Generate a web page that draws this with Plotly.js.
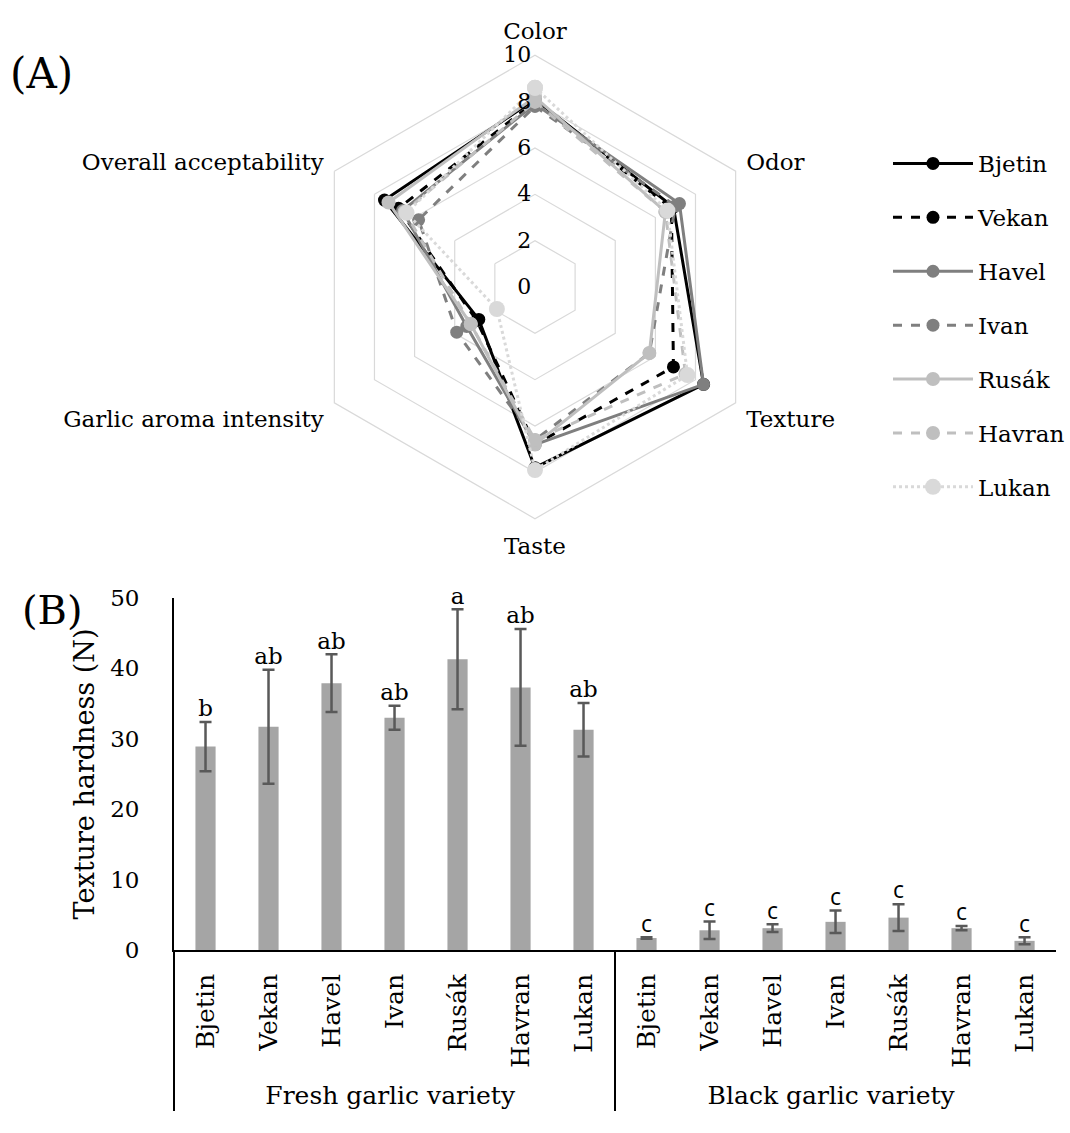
<!DOCTYPE html>
<html><head><meta charset="utf-8">
<script src="https://cdn.plot.ly/plotly-3.0.1.min.js"></script>
<style>html,body{margin:0;padding:0;background:#fff}#chart{width:1070px;height:1133px}</style>
</head><body><div id="chart"></div>
<script>
// ---- Radar (A) data ----
const attributes = ['Color', 'Odor', 'Texture', 'Taste', 'Garlic aroma intensity', 'Overall acceptability'];
const bjetin = [8.1, 6.9, 8.4, 7.8, 2.8, 7.5];
const vekan  = [8.0, 6.8, 6.9, 6.8, 2.9, 6.8];
const havel  = [7.9, 7.2, 8.4, 6.8, 3.4, 6.6];
const ivan   = [7.8, 7.0, 5.7, 6.6, 3.9, 5.8];
const rusak  = [8.2, 6.5, 5.7, 6.8, 3.2, 7.3];
const havran = [8.0, 6.5, 7.5, 6.6, 3.2, 6.5];
const lukan  = [8.6, 6.6, 7.6, 7.9, 1.9, 6.4];
const seriesNames = ['Bjetin', 'Vekan', 'Havel', 'Ivan', 'Rusák', 'Havran', 'Lukan'];

// ---- Bar (B) data ----
const varieties = ['Bjetin', 'Vekan', 'Havel', 'Ivan', 'Rusák', 'Havran', 'Lukan'];
const groupFresh = 'Fresh garlic variety';
const groupBlack = 'Black garlic variety';
const freshHardness = [28.9, 31.7, 37.9, 33.0, 41.3, 37.3, 31.3];
const freshError    = [3.5, 8.1, 4.1, 1.7, 7.1, 8.3, 3.8];
const freshLetters  = ['b', 'ab', 'ab', 'ab', 'a', 'ab', 'ab'];
const blackHardness = [1.7, 2.8, 3.1, 4.0, 4.6, 3.1, 1.3];
const blackError    = [0.1, 1.25, 0.55, 1.6, 1.9, 0.3, 0.5];
const blackLetters  = ['c', 'c', 'c', 'c', 'c', 'c', 'c'];

const SERIF = 'DejaVu Serif';
const SANS = 'Open Sans';
const W = 1070, H = 1133;

const radarData = [bjetin, vekan, havel, ivan, rusak, havran, lukan];
const styles = [
  {color: '#000000', dash: 'solid', size: 13},
  {color: '#000000', dash: 'dash', size: 13},
  {color: '#7f7f7f', dash: 'solid', size: 13},
  {color: '#7f7f7f', dash: 'dash', size: 13},
  {color: '#bfbfbf', dash: 'solid', size: 14},
  {color: '#bfbfbf', dash: 'dash', size: 14},
  {color: '#d9d9d9', dash: 'dot', size: 16}
];

const traces = [];
radarData.forEach((vals, i) => {
  traces.push({
    type: 'scatterpolar',
    r: vals.concat([vals[0]]),
    theta: attributes.concat([attributes[0]]),
    name: seriesNames[i],
    legendgroup: 'g' + i,
    mode: 'lines+markers',
    line: {color: styles[i].color, dash: styles[i].dash, width: 3},
    marker: {color: styles[i].color, size: styles[i].size},
    cliponaxis: false
  });
});

const xGroups = varieties.map(() => groupFresh).concat(varieties.map(() => groupBlack));
const xNames = varieties.concat(varieties);
const hardness = freshHardness.concat(blackHardness);
const errs = freshError.concat(blackError);
const letters = freshLetters.concat(blackLetters);

traces.push({
  type: 'bar',
  x: [xGroups, xNames],
  y: hardness,
  xaxis: 'x', yaxis: 'y',
  marker: {color: '#a5a5a5'},
  width: 0.32,
  error_y: {type: 'data', array: errs, visible: true, color: '#595959', thickness: 2.5, width: 6},
  showlegend: false,
  hoverinfo: 'skip'
});
traces.push({
  type: 'scatter',
  mode: 'text',
  x: [xGroups, xNames],
  y: hardness.map((v, i) => v + errs[i]),
  text: letters,
  textposition: 'top center',
  textfont: {family: letters.map(l => l === 'c' ? SANS : SERIF), size: 23, color: '#000'},
  xaxis: 'x', yaxis: 'y',
  showlegend: false,
  hoverinfo: 'skip',
  cliponaxis: false
});

const cx = 538, cy = 287, R = 233;
const layout = {
  width: W, height: H,
  margin: {l: 0, r: 0, t: 0, b: 0},
  paper_bgcolor: '#fff', plot_bgcolor: '#fff',
  font: {family: SERIF, size: 23, color: '#000'},
  showlegend: true,
  legend: {
    x: 893 / W, y: 1 - 142 / H, xanchor: 'left', yanchor: 'top',
    itemwidth: 80, traceorder: 'grouped', tracegroupgap: 21,
    font: {family: SERIF, size: 23, color: '#000'},
    bgcolor: 'rgba(0,0,0,0)'
  },
  polar: {
    domain: {x: [(cx - R) / W, (cx + R) / W], y: [1 - (cy + R) / H, 1 - (cy - R) / H]},
    gridshape: 'linear',
    bgcolor: '#fff',
    angularaxis: {
      direction: 'clockwise', rotation: 90,
      showgrid: false, showline: true, linecolor: '#d9d9d9', linewidth: 1.2,
      ticks: 'outside', ticklen: 7, tickcolor: 'rgba(0,0,0,0)',
      tickfont: {family: SERIF, size: 23, color: '#000'}
    },
    radialaxis: {
      range: [0, 10], dtick: 2, angle: 90, tickangle: 90,
      side: 'counterclockwise',
      showline: false, ticks: '', gridcolor: '#d9d9d9', gridwidth: 1.2,
      tickfont: {family: SERIF, size: 22, color: '#000'}
    }
  },
  xaxis: {
    type: 'multicategory',
    domain: [175 / W, 1062 / W],
    range: [-0.5, 13.5],
    anchor: 'y',
    showline: true, linecolor: '#000', linewidth: 2,
    ticks: '', ticklabelstandoff: 12,
    tickangle: -90,
    showdividers: true, dividercolor: '#000', dividerwidth: 2,
    tickfont: {family: SERIF, size: 25, color: '#000'},
    automargin: false,
    showgrid: false, zeroline: false
  },
  yaxis: {
    domain: [1 - 950 / H, 1 - 598 / H],
    anchor: 'x',
    range: [0, 50], dtick: 10,
    showline: true, linecolor: '#000', linewidth: 2,
    ticks: 'outside', ticklen: 28, tickcolor: 'rgba(0,0,0,0)',
    showgrid: false, zeroline: false,
    tickfont: {family: SERIF, size: 23, color: '#000'},
    title: {text: 'Texture hardness (N)', font: {family: SERIF, size: 27, color: '#000'}, standoff: 8},
    automargin: false
  },
  annotations: [
    {text: '(A)', xref: 'paper', yref: 'paper', x: 8 / W, y: 1 - 73 / H, xanchor: 'left', yanchor: 'middle', showarrow: false, font: {family: SERIF, size: 42, color: '#000'}},
    {text: '(B)', xref: 'paper', yref: 'paper', x: 20 / W, y: 1 - 610 / H, xanchor: 'left', yanchor: 'middle', showarrow: false, font: {family: SERIF, size: 40, color: '#000'}}
  ]
};

Plotly.newPlot('chart', traces, layout, {displayModeBar: false, staticPlot: true});
</script>
</body></html>
